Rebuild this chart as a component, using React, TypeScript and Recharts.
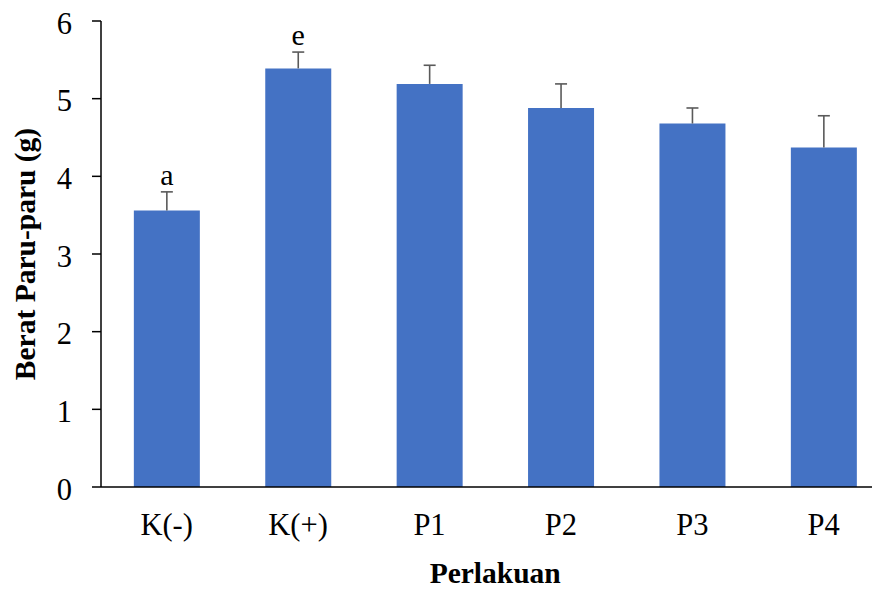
import React from 'react';
import { BarChart, Bar, XAxis, YAxis, LabelList } from 'recharts';

const categories = ['K(-)', 'K(+)', 'P1', 'P2', 'P3', 'P4'];
const means = [3.56, 5.39, 5.19, 4.88, 4.68, 4.37];
const errors = [0.24, 0.21, 0.24, 0.31, 0.2, 0.41];
const letters = ['a', 'e', '', '', '', ''];
const yTicks = [0, 1, 2, 3, 4, 5, 6];

const data = categories.map((name, i) => ({
  name,
  mean: means[i],
  err: errors[i],
  letter: letters[i],
}));

const FONT = "'Times New Roman', 'Liberation Serif', serif";

const Whisker = (props: any) => {
  const { x, y, width, height } = props;
  const cx = x + width / 2;
  return (
    <g>
      <line x1={cx} x2={cx} y1={y + height} y2={y} stroke="#5a5a5a" strokeWidth={1.6} />
      <line x1={cx - 6} x2={cx + 6} y1={y} y2={y} stroke="#5a5a5a" strokeWidth={1.6} />
    </g>
  );
};

export default function App() {
  return (
    <div style={{ width: 872, height: 582, overflow: 'hidden' }}>
      <BarChart
        width={900}
        height={582}
        data={data}
        margin={{ top: 13, right: 18.6, left: 0, bottom: 0 }}
        barCategoryGap="25%"
      >
        <XAxis
          dataKey="name"
          height={103}
          tickLine={false}
          tickSize={8}
          tickMargin={18}
          axisLine={{ stroke: '#000', strokeWidth: 1.5 }}
          tick={{ fill: '#000', fontSize: 30.5, fontFamily: FONT }}
          label={{
            value: 'Perlakuan',
            position: 'insideBottom',
            offset: 7,
            fill: '#000',
            fontSize: 29.5,
            fontWeight: 'bold',
            fontFamily: FONT,
          }}
        />
        <YAxis
          width={93}
          domain={[0, 6]}
          ticks={yTicks}
          interval={0}
          tickSize={9}
          tickMargin={20}
          axisLine={{ stroke: '#000', strokeWidth: 1.5 }}
          tickLine={{ stroke: '#000', strokeWidth: 1.5 }}
          tick={{ fill: '#000', fontSize: 30.5, fontFamily: FONT, dy: 2 }}
          label={{
            value: 'Berat Paru-paru (g)',
            angle: -90,
            position: 'insideLeft',
            offset: 17,
            fill: '#000',
            fontSize: 29.5,
            fontWeight: 'bold',
            fontFamily: FONT,
            style: { textAnchor: 'middle' },
          }}
        />
        <Bar dataKey="mean" stackId="s" fill="#4472C4" isAnimationActive={false} />
        <Bar dataKey="err" stackId="s" fill="none" shape={<Whisker />} isAnimationActive={false}>
          <LabelList
            dataKey="letter"
            position="top"
            offset={7}
            fill="#000"
            fontSize={30}
            fontFamily={FONT}
          />
        </Bar>
      </BarChart>
    </div>
  );
}
